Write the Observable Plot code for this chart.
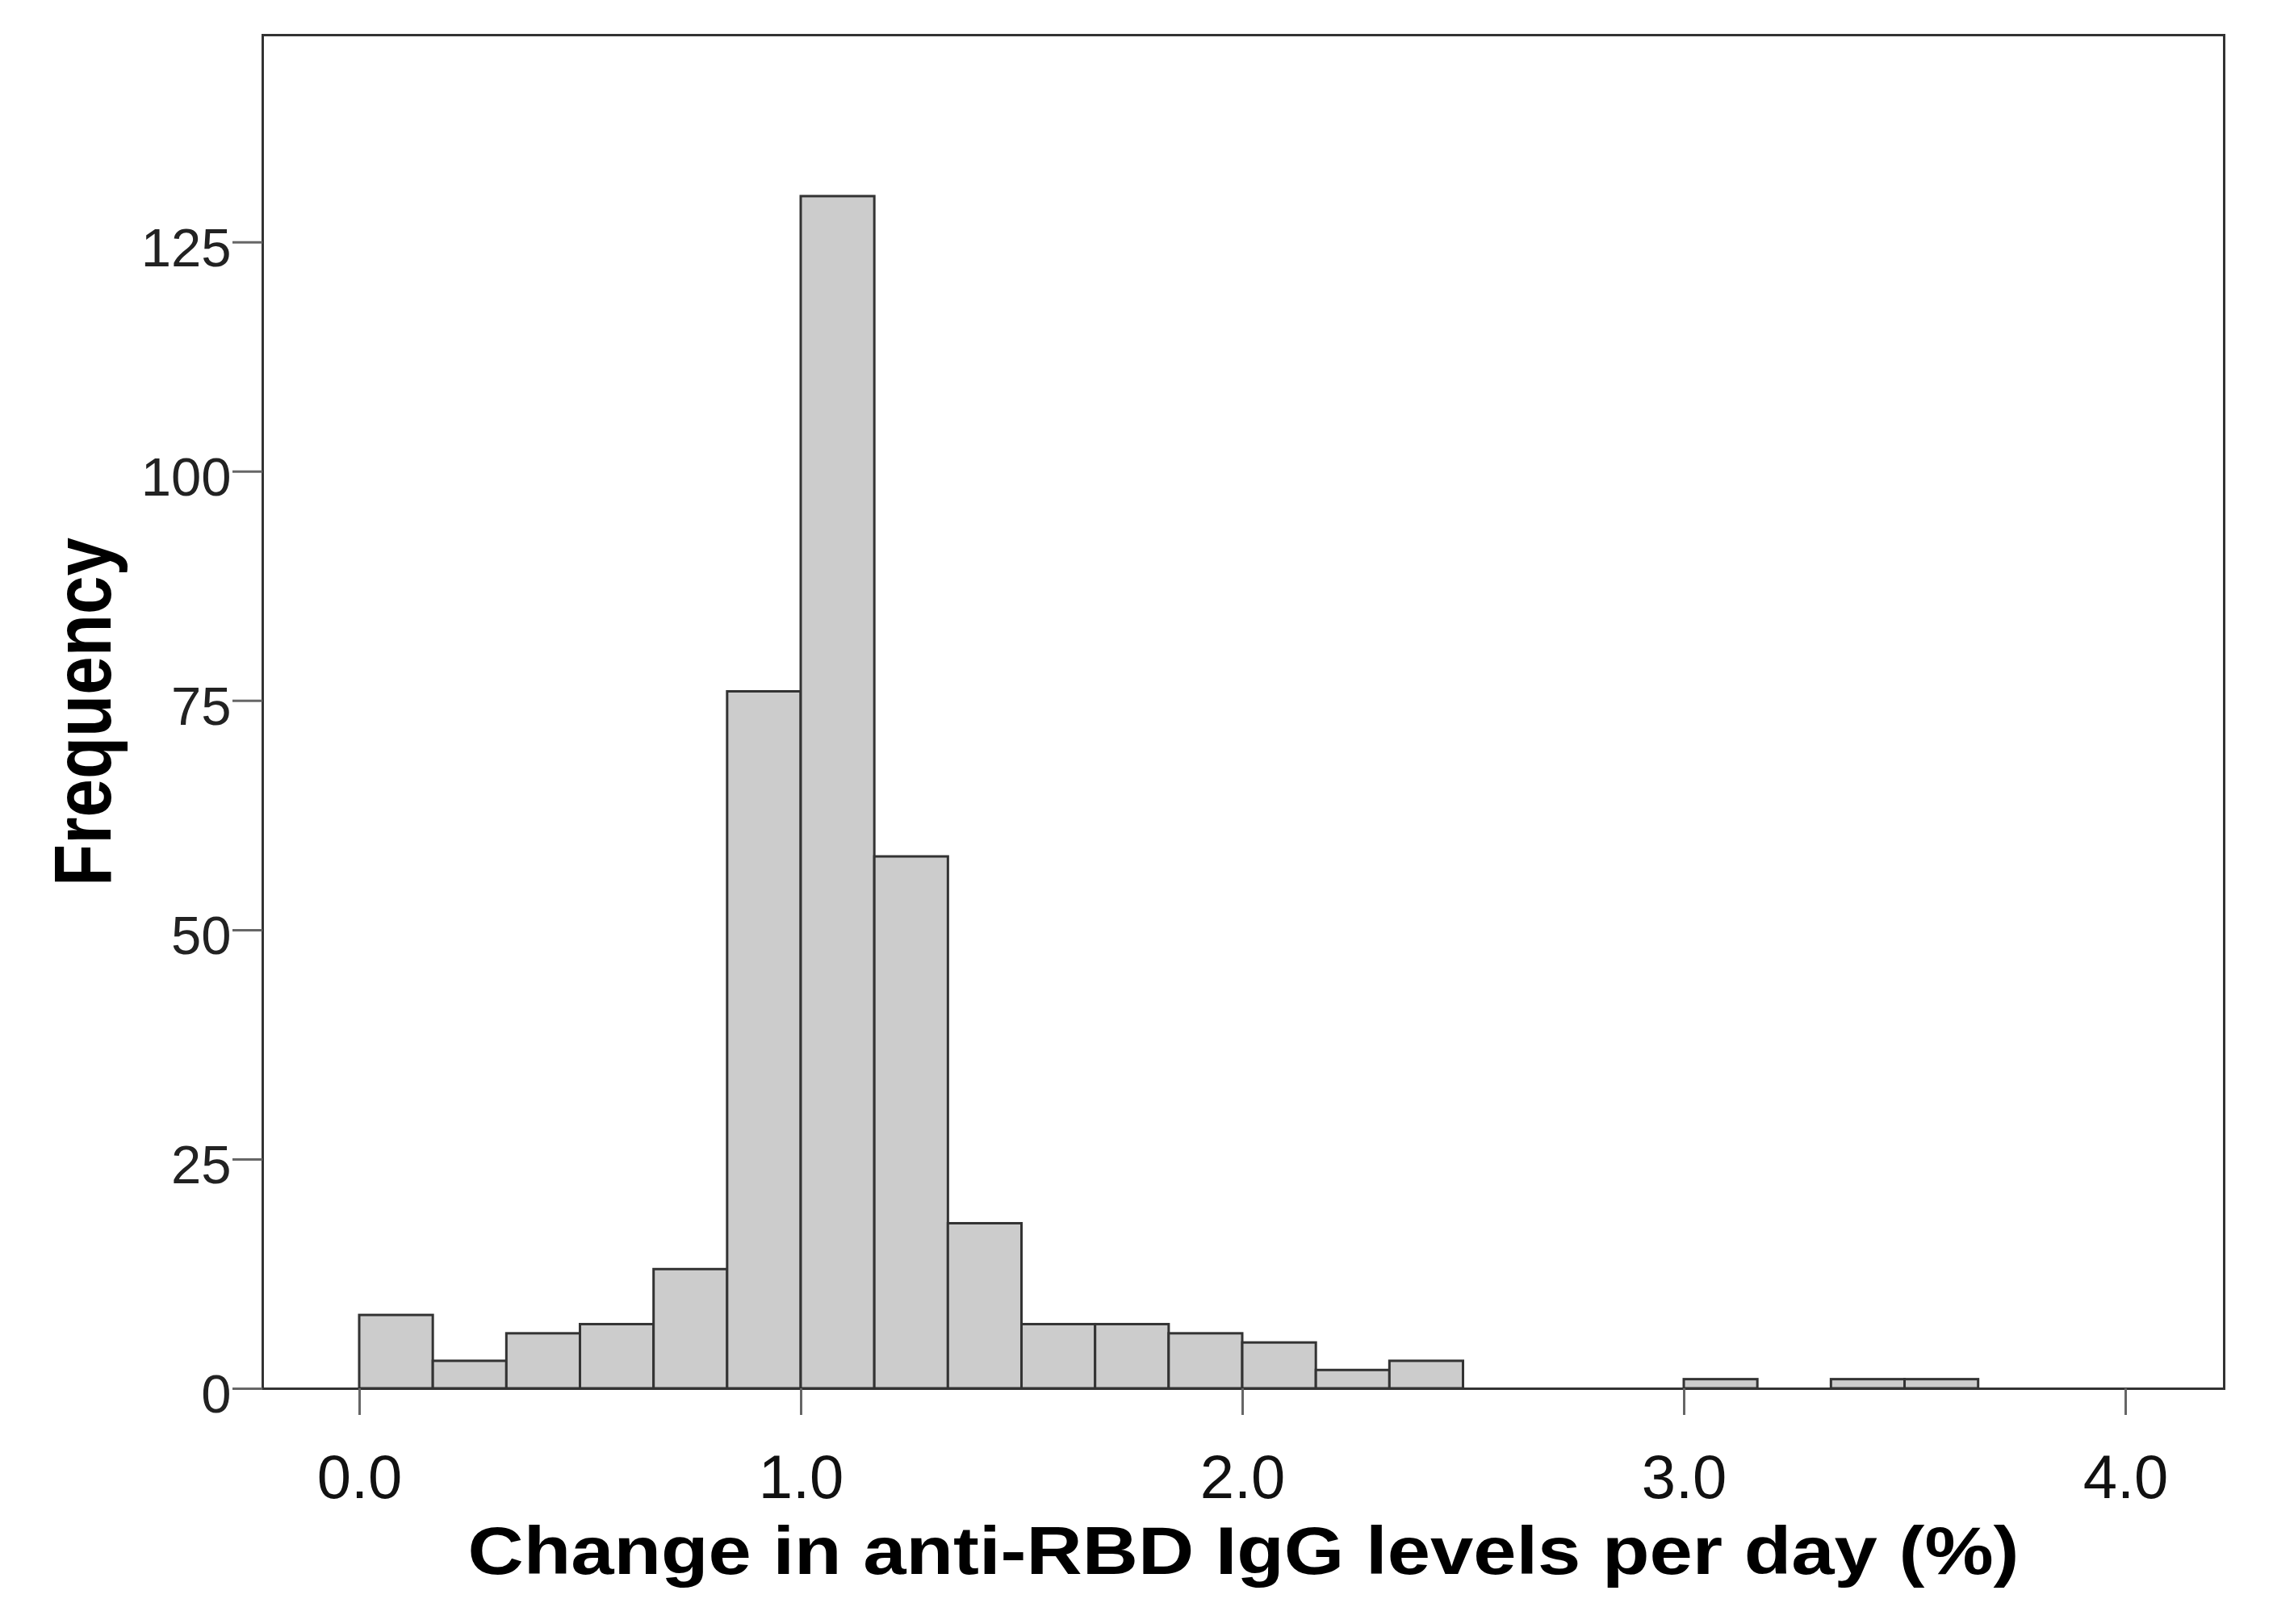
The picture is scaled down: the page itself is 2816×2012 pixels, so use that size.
<!DOCTYPE html>
<html>
<head>
<meta charset="utf-8">
<script src="https://cdn.jsdelivr.net/npm/d3@7"></script>
<script src="https://cdn.jsdelivr.net/npm/@observablehq/plot@0.6"></script>
<style>
  html, body { margin: 0; padding: 0; background: #fff; }
</style>
</head>
<body>
<div id="chart"></div>
<script>
// ---- data ----
const binStart = [0, 0.1667, 0.3333, 0.5, 0.6667, 0.8333, 1, 1.1667, 1.3333, 1.5, 1.6667, 1.8333, 2, 2.1667, 2.3333, 3, 3.3333, 3.5];
const frequency = [8, 3, 6, 7, 13, 76, 130, 58, 18, 7, 7, 6, 5, 2, 3, 1, 1, 1];
const binWidth = 1 / 6;
const xTicks = [0, 1, 2, 3, 4];
const yTicks = [0, 25, 50, 75, 100, 125];
const xTitle = "Change in anti-RBD IgG levels per day (%)";
const yTitle = "Frequency";

const bins = binStart.map((s, i) => ({ x1: s, x2: s + binWidth, count: frequency[i] }));

const chart = Plot.plot({
  width: 2816,
  height: 2012,
  marginLeft: 325,
  marginRight: 61,
  marginTop: 43,
  marginBottom: 292,
  style: { fontFamily: "'Liberation Sans', Arial, sans-serif", background: "#fff", color: "#222" },
  x: { domain: [-0.2194, 4.223] },
  y: { domain: [0, 147.6] },
  marks: [
    Plot.rectY(bins, { x1: "x1", x2: "x2", y: "count", fill: "#cccccc", stroke: "#333", strokeWidth: 3 }),
    Plot.frame({ stroke: "#333", strokeWidth: 3 }),
    Plot.axisY({ ticks: yTicks, tickSize: 37, tickPadding: 2, fontSize: 67, label: null, stroke: "#666", strokeWidth: 3, fill: "#222" }),
    Plot.axisX({ ticks: xTicks, tickFormat: d3.format(".1f"), tickSize: 33, tickPadding: 49, fontSize: 76, label: null, stroke: "#666", strokeWidth: 3, fill: "#111" }),
    Plot.text([xTitle], { text: d => d, frameAnchor: "bottom", dy: 203, fontSize: 84, fontWeight: "bold", lineAnchor: "middle", textAnchor: "middle", fill: "#000" }),
    Plot.text([yTitle], { text: d => d, frameAnchor: "left", dx: -221, rotate: -90, fontSize: 100, fontWeight: "bold", lineAnchor: "middle", textAnchor: "middle", fill: "#000" })
  ]
});

// stretch the titles to the lengths they have in the reference
chart.querySelectorAll("text").forEach(t => {
  if (t.textContent === xTitle) { t.setAttribute("textLength", 1922); t.setAttribute("lengthAdjust", "spacingAndGlyphs"); }
  if (t.textContent === yTitle) { t.setAttribute("textLength", 432); t.setAttribute("lengthAdjust", "spacingAndGlyphs"); }
});
// nudge only the y tick labels (not the tick lines) slightly down, as in the reference
const yLabels = chart.querySelector('g[aria-label="y-axis tick label"]');
if (yLabels) {
  const tr = yLabels.getAttribute("transform") || "";
  yLabels.setAttribute("transform", (tr + " translate(0,8)").trim());
}

document.getElementById("chart").appendChild(chart);
</script>
</body>
</html>
